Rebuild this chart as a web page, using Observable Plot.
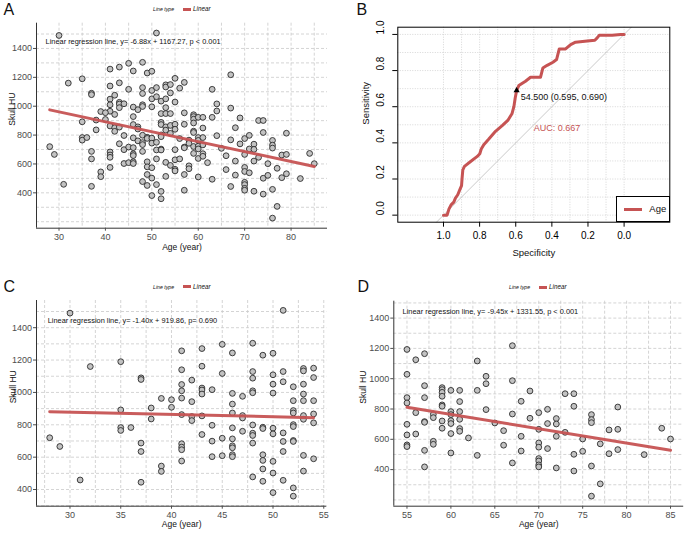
<!DOCTYPE html>
<html><head><meta charset="utf-8">
<script src="https://cdn.jsdelivr.net/npm/d3@7"></script>
<script src="https://cdn.jsdelivr.net/npm/@observablehq/plot@0.6"></script>
<style>
body{margin:0;background:#fff;font-family:"Liberation Sans",Arial,sans-serif;}
#root{position:relative;width:685px;height:533px;overflow:hidden;background:#fff;}
.panel{position:absolute;}
.letter{position:absolute;font-size:16px;line-height:16px;color:#111;}
.legt{position:absolute;font-style:italic;white-space:nowrap;color:#111;}
.legbar{position:absolute;height:2.5px;}
</style></head><body><div id="root"></div>
<script>
// ---------- data ----------
// patients younger than 55 (panel C)
const youngAge = [30,32,35,37,37,41,41,41,41,41,39,40,40,38,38,35,35,35,36,28,29,37,37,39,39,31,37,41,41,41,41,41,
 51,42,42,42,42,43,43,43,43,43,43,43,44,44,44,44,45,45,45,45,46,46,46,46,46,46,46,46,46,46,47,47,47,47,
 48,48,48,48,48,48,48,48,48,48,49,49,49,49,49,49,49,50,50,50,50,50,50,50,50,50,51,51,51,51,51,51,
 52,52,52,52,52,52,52,52,52,52,53,53,53,53,53,53,53,53,53,54,54,54,54,54,54];
const youngHU = [1490,1160,1190,1090,1080,1257,1140,1049,1010,965,963,955,908,904,836,892,783,765,783,720,666,687,635,545,512,459,445,863,683,662,646,576,
 1507,1076,943,851,826,1271,1162,1027,1015,990,855,740,1017,797,699,603,1297,1117,717,609,1244,994,928,873,781,713,670,658,615,603,976,857,842,760,
 1304,1129,1088,1010,998,799,748,734,687,478,1230,785,777,615,580,527,451,1242,1109,1051,996,779,744,574,502,381,1129,1066,750,697,635,457,
 1035,949,888,873,801,789,703,697,410,359,1148,1133,1051,990,949,857,834,611,514,1150,1092,949,867,812,590];
// patients aged 55 and over (panel D)
const olderAge = [55,55,55,55,55,55,55,55,56,56,56,57,57,57,57,57,57,57,58,58,58,58,59,59,59,59,59,59,59,59,
 60,60,60,60,60,60,60,61,61,61,61,61,61,62,63,63,63,64,64,64,65,66,66,67,67,67,67,68,68,68,69,69,
 70,70,70,70,70,70,70,70,71,71,71,72,72,72,72,73,73,74,74,74,74,75,75,76,76,76,76,76,77,77,78,78,79,79,79,82,84,85];
const olderHU = [1193,1029,875,840,699,629,563,552,1125,776,635,1165,954,875,717,712,527,418,765,743,587,567,941,928,910,884,827,818,721,673,
 923,783,763,723,704,638,510,923,849,783,732,671,653,609,1117,923,494,1016,967,796,708,657,561,1218,987,767,444,851,620,523,919,739,
 776,666,576,548,473,457,431,418,798,704,539,737,701,620,411,901,646,901,818,501,391,602,521,763,730,710,424,225,570,306,662,505,813,666,532,499,673,602];
// regression results printed on panels A, C, D
const regSlope = [-6.88, -1.40, -9.45];
const regIntercept = [1167.27, 919.86, 1331.55];
const regP = ["p < 0.001", "p= 0.690", "p < 0.001"];
// ROC curve (panel B)
const rocSpec = [1.0,0.980,0.970,0.958,0.943,0.934,0.921,0.910,0.900,0.897,0.893,0.884,0.850,0.813,0.799,0.791,0.777,0.749,0.712,0.675,0.644,0.621,0.610,0.603,0.595,0.583,0.546,0.518,0.463,0.450,0.426,0.394,0.374,0.367,0.359,0.324,0.296,0.269,0.204,0.162,0.149,0.138,0.066,0.019,0.0];
const rocSens = [0.0,0.0,0.033,0.057,0.072,0.094,0.113,0.140,0.163,0.205,0.251,0.270,0.297,0.325,0.340,0.366,0.390,0.421,0.464,0.495,0.524,0.561,0.602,0.648,0.690,0.717,0.741,0.763,0.763,0.814,0.829,0.846,0.861,0.888,0.920,0.920,0.944,0.957,0.964,0.968,0.981,0.995,0.995,1.0,1.0];
const rocThreshold = {label:"54.500", spec:0.595, sens:0.690};
const rocAUC = 0.667;
// ticks
const huTicks = [400,600,800,1000,1200,1400];
const rocTicks = [1.0,0.8,0.6,0.4,0.2,0.0];

const RED = "#c65353";
const FONT = "Liberation Sans, Arial, sans-serif";
const root = document.getElementById("root");

function place(el, left, top){ const d=document.createElement("div"); d.className="panel"; d.style.left=left+"px"; d.style.top=top+"px"; d.appendChild(el); root.appendChild(d); }
function html(cls, text, left, top, extra){ const d=document.createElement("div"); d.className=cls; d.textContent=text; d.style.left=left+"px"; d.style.top=top+"px"; if(extra) Object.assign(d.style, extra); root.appendChild(d); return d; }

function ggPanel(o){
  const pts = o.age.map((a,i)=>({age:a, hu:o.hu[i]}));
  const ext = d3.extent(o.age);
  const reg = ext.map(a=>({age:a, hu:o.intercept + o.slope*a}));
  const ann = `Linear regression line, y= ${o.slope.toFixed(2)}x + ${o.intercept.toFixed(2)}, ${o.p}`;
  const grid = {stroke:"#c9c9c9", strokeDasharray:"3,2", strokeWidth:0.8};
  return Plot.plot({
    width:o.width, height:o.height,
    marginLeft:o.ml, marginRight:o.mr, marginTop:o.mt, marginBottom:o.mb,
    style:{fontFamily:FONT, background:"transparent", overflow:"visible"},
    x:{domain:o.xDomain}, y:{domain:o.yDomain},
    marks:[
      Plot.ruleX(o.xGrid, grid),
      Plot.ruleY(o.yGrid, grid),
      Plot.ruleX([o.xDomain[0]], {stroke:"#333", strokeWidth:1}),
      Plot.ruleY([o.yDomain[0]], {stroke:"#333", strokeWidth:1}),
      Plot.axisX({ticks:o.xTicks, tickFormat:d=>String(d), tickSize:3, tickPadding:2, fontSize:9, color:"#4d4d4d", label:null}),
      Plot.axisY({ticks:huTicks, tickFormat:d=>String(d), tickSize:3, tickPadding:1.5, fontSize:9, color:"#4d4d4d", label:null}),
      Plot.dot(pts, {x:"age", y:"hu", r:2.9, fill:"#c2c2c2", stroke:"#2b2b2b", strokeWidth:0.9}),
      Plot.line(reg, {x:"age", y:"hu", stroke:RED, strokeWidth:3, strokeOpacity:0.95}),
      Plot.text([{x:o.annX, y:1445, t:ann}], {x:"x", y:"y", text:"t", textAnchor:"start", fontSize:7.4, fill:"#111"}),
      Plot.text(["Age (year)"], {frameAnchor:"bottom", dy:o.xTitleDy, fontSize:8.5, fill:"#111"}),
      Plot.text(["Skull HU"], {frameAnchor:"left", rotate:-90, dx:o.yTitleDx, fontSize:8.5, fill:"#111"})
    ]
  });
}

function legend(x1, bar, x2, yc){
  html("legt", "Line type", x1, yc-4, {fontSize:"5.2px", lineHeight:"8px"});
  const b = document.createElement("div"); b.className="legbar";
  Object.assign(b.style,{left:bar+"px", top:(yc-1.25)+"px", width:"8px", background:RED});
  root.appendChild(b);
  html("legt", "Linear", x2, yc-4, {fontSize:"6.3px", lineHeight:"8px"});
}

// Panel A: all patients
place(ggPanel({
  age: youngAge.concat(olderAge), hu: youngHU.concat(olderHU),
  slope:regSlope[0], intercept:regIntercept[0], p:regP[0],
  width:340, height:260, ml:36, mr:13, mt:22.7, mb:32.3,
  xDomain:[25.15, 87.85], yDomain:[155, 1575],
  xTicks:[30,40,50,60,70,80], xGrid:d3.range(30, 86, 5), yGrid:d3.range(200, 1501, 100),
  annX:27.1, xTitleDy:21.3, yTitleDx:-24
}), 0, 0);

// Panel C: < 55 years
place(ggPanel({
  age: youngAge, hu: youngHU,
  slope:regSlope[1], intercept:regIntercept[1], p:regP[1],
  width:340, height:273, ml:36, mr:13.7, mt:40, mb:27.3,
  xDomain:[26.7, 55.3], yDomain:[297, 1568],
  xTicks:[30,35,40,45,50,55], xGrid:d3.range(27.5, 55.1, 2.5), yGrid:d3.range(300, 1501, 100),
  annX:27.8, xTitleDy:21, yTitleDx:-23
}), 0, 260);

// Panel D: >= 55 years
place(ggPanel({
  age: olderAge, hu: olderHU,
  slope:regSlope[2], intercept:regIntercept[2], p:regP[2],
  width:345, height:273, ml:53.3, mr:1.8, mt:40.7, mb:27.3,
  xDomain:[53.5, 86.5], yDomain:[158.5, 1511.5],
  xTicks:[55,60,65,70,75,80,85], xGrid:d3.range(55, 86, 2.5), yGrid:d3.range(200, 1501, 100),
  annX:54.5, xTitleDy:21, yTitleDx:-31
}), 340, 260);

// Panel B: ROC
{
  const roc = rocSpec.map((s,i)=>({spec:s, sens:rocSens[i]}));
  const xDom = [1.253, -0.253], yDom = [-0.039, 1.04];
  const diag = yDom.map(v=>({spec:1 - v, sens:v}));
  const gridVals = d3.range(0, 11).map(i=>i/10);
  const g = {stroke:"#cdcdcd", strokeDasharray:"1,1.5", strokeWidth:0.8};
  const chart = Plot.plot({
    width:345, height:260, marginLeft:57.3, marginRight:15.7, marginTop:26.7, marginBottom:38.3,
    style:{fontFamily:FONT, background:"transparent", overflow:"visible"},
    x:{domain:xDom}, y:{domain:yDom},
    marks:[
      Plot.ruleX(gridVals, g),
      Plot.ruleY(gridVals, g),
      Plot.line(diag, {x:"spec", y:"sens", stroke:"#bdbdbd", strokeWidth:0.8}),
      Plot.line(roc, {x:"spec", y:"sens", stroke:RED, strokeWidth:3, strokeLinejoin:"round"}),
      Plot.dot([rocThreshold], {x:"spec", y:"sens", symbol:"triangle", r:2.3, fill:"#000"}),
      Plot.text([rocThreshold], {x:"spec", y:"sens", text:d=>`${d.label} (${d.spec.toFixed(3)}, ${d.sens.toFixed(3)})`, dx:4.2, dy:6.5, textAnchor:"start", fontSize:9, fill:"#111"}),
      Plot.text([{x:0.5, y:0.5, t:`AUC: ${rocAUC.toFixed(3)}`}], {x:"x", y:"y", text:"t", textAnchor:"start", lineAnchor:"top", fontSize:9, fill:RED}),
      Plot.frame({stroke:"#000", strokeWidth:1}),
      Plot.axisX({ticks:rocTicks, tickFormat:d=>d.toFixed(1), tickSize:5, tickPadding:5, fontSize:10, color:"#000", label:null}),
      Plot.axisY({ticks:rocTicks, tickFormat:()=>"", tickSize:5, color:"#000", label:null}),
      Plot.text(rocTicks, {y:d=>d, text:d=>d.toFixed(1), frameAnchor:"left", rotate:-90, dx:-16.6, fontSize:10, fill:"#000"}),
      Plot.text(["Specificity"], {frameAnchor:"bottom", dy:33.3, fontSize:9.5, fill:"#111"}),
      Plot.text(["Sensitivity"], {frameAnchor:"left", rotate:-90, dx:-32.3, fontSize:9.5, fill:"#111"})
    ]
  });
  place(chart, 340, 0);
  // legend box
  const box = document.createElement("div");
  Object.assign(box.style,{position:"absolute", left:"616px", top:"196px", width:"53.8px", height:"26.2px", border:"1px solid #000", boxSizing:"border-box", background:"#fff"});
  root.appendChild(box);
  const lb = document.createElement("div");
  Object.assign(lb.style,{position:"absolute", left:"624px", top:"207.5px", width:"17.7px", height:"3px", background:RED});
  root.appendChild(lb);
  html("legt", "Age", 649.3, 203, {fontSize:"9.5px", lineHeight:"12px", fontStyle:"normal"});
}

// panel letters and ggplot legends
const letters = ["A","B","C","D"];
const letterPos = [[3.5,2],[356.5,1.5],[3.5,278.5],[357.5,278.5]];
letters.forEach((l,i)=>html("letter", l, letterPos[i][0], letterPos[i][1]));
legend(153, 182.7, 193, 9.3);
legend(153, 183, 193, 286.7);
legend(509, 539, 549, 287.3);
</script></body></html>
